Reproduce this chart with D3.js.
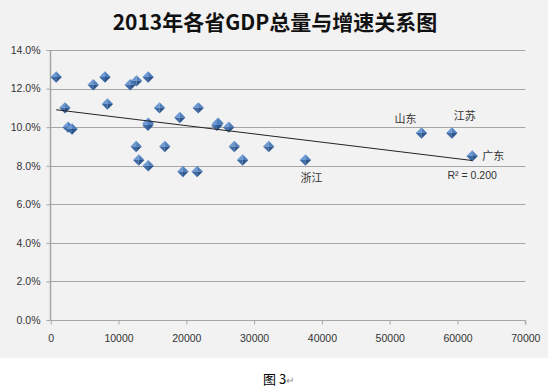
<!DOCTYPE html>
<html>
<head>
  <meta charset="utf-8">
  <title>2013年各省GDP总量与增速关系图</title>
  <script src="https://cdn.jsdelivr.net/npm/d3@7"></script>
  <style>
    body { margin: 0; background: #fff; }
    .chart text { font-family: "Liberation Sans", Arial, sans-serif; fill: #333; }
    .chart .cjk { font-family: "Noto Sans CJK SC", sans-serif; }
  </style>
</head>
<body>
  <svg class="chart"></svg>
<script>
  // 1. Data: province, GDP (亿元), growth rate
  var provinces = ["西藏","青海","宁夏","海南","甘肃","贵州","新疆","云南","重庆","天津",
                   "广西","江西","黑龙江","山西","吉林","陕西","内蒙古","安徽","北京","福建",
                   "上海","湖北","湖南","四川","辽宁","河北","河南","浙江","山东","江苏","广东"];
  var gdp = [807, 2101, 2565, 3146, 6268, 8007, 8360, 11721, 12657, 14370,
             14378, 14339, 14383, 12602, 12981, 16045, 16832, 19039, 19501, 21760,
             21602, 24668, 24502, 26261, 27078, 28301, 32156, 37568, 54684, 59162, 62164];
  var growth = [0.126, 0.110, 0.100, 0.099, 0.122, 0.126, 0.112, 0.122, 0.124, 0.126,
                0.102, 0.101, 0.080, 0.090, 0.083, 0.110, 0.090, 0.105, 0.077, 0.110,
                0.077, 0.102, 0.101, 0.100, 0.090, 0.083, 0.090, 0.083, 0.097, 0.097, 0.085];
  var xTicks = [0, 10000, 20000, 30000, 40000, 50000, 60000, 70000];
  var yTicks = [0, 0.02, 0.04, 0.06, 0.08, 0.10, 0.12, 0.14];
  var labelled = ["浙江", "山东", "江苏", "广东"];
  var trendLabel = "R² = 0.200";

  // 2. Sizes
  var W = 548, H = 390;
  var svg = d3.select(".chart").attr("width", W).attr("height", H);

  svg.append("rect").attr("width", W).attr("height", 358).attr("fill", "#f2f2f2");

  // 3. Scales
  var x = d3.scaleLinear().domain([0, 70000]).range([50.7, 525.3]);
  var y = d3.scaleLinear().domain([0, 0.14]).range([320, 50]);

  // 4. Grid lines
  svg.append("g").selectAll("line")
    .data(yTicks.slice(1))
    .enter().append("line")
    .attr("x1", x(0)).attr("x2", x(70000))
    .attr("y1", function(d){ return Math.round(y(d)) + 0.5; })
    .attr("y2", function(d){ return Math.round(y(d)) + 0.5; })
    .attr("stroke", "#a6a6a6").attr("stroke-width", 1);

  // 5. Axes
  var xAxis = d3.axisBottom(x).tickValues(xTicks).tickSize(4).tickPadding(10)
    .tickFormat(d3.format("d"));
  var gx = svg.append("g").attr("transform", "translate(0," + 320.5 + ")").call(xAxis);
  gx.select(".domain").attr("stroke", "#a6a6a6").attr("d", "M" + x(0) + ",0H" + x(70000) + "V4");
  gx.selectAll(".tick line").attr("stroke", "#a6a6a6");
  gx.selectAll("text").attr("font-size", 10.5).attr("fill", "#2a2a2a")
    .style("font-family", "'Liberation Sans', Arial, sans-serif");

  var yAxis = d3.axisLeft(y).tickValues(yTicks).tickSize(4).tickPadding(6)
    .tickFormat(d3.format(".1%"));
  var gy = svg.append("g").attr("transform", "translate(" + 50.5 + ",0)").call(yAxis);
  gy.select(".domain").attr("stroke", "#a6a6a6").attr("stroke-width", 1.5)
    .attr("d", "M0," + y(0.14) + "V" + y(0));
  gy.selectAll(".tick line").attr("stroke", "#a6a6a6");
  gy.selectAll("text").attr("font-size", 10.5).attr("fill", "#2a2a2a")
    .style("font-family", "'Liberation Sans', Arial, sans-serif");

  // 6. Trend line (least squares)
  var mx = d3.mean(gdp), my = d3.mean(growth);
  var sxy = d3.sum(gdp, function(v, i){ return (v - mx) * (growth[i] - my); });
  var sxx = d3.sum(gdp, function(v){ return (v - mx) * (v - mx); });
  var slope = sxy / sxx, icpt = my - slope * mx;
  var ext = d3.extent(gdp);

  // 7. Markers
  var r = 5.7;
  var facets = [
    { d: "M0," + (-r) + "L" + (-r) + ",0L0,0Z", c: "#6e9ad4" },
    { d: "M0," + (-r) + "L" + r + ",0L0,0Z", c: "#4f7fbd" },
    { d: "M" + (-r) + ",0L0," + r + "L0,0Z", c: "#3d6aa4" },
    { d: "M" + r + ",0L0," + r + "L0,0Z", c: "#2c568c" }
  ];

  var pts = svg.append("g").selectAll("g")
    .data(gdp)
    .enter().append("g")
    .attr("transform", function(d, i){ return "translate(" + x(d) + "," + y(growth[i]) + ")"; });
  facets.forEach(function(f){
    pts.append("path").attr("d", f.d).attr("fill", f.c);
  });

  svg.append("line")
    .attr("x1", x(ext[0])).attr("y1", y(icpt + slope * ext[0]))
    .attr("x2", x(ext[1])).attr("y2", y(icpt + slope * ext[1]))
    .attr("stroke", "#222").attr("stroke-width", 1);

  // 8. Labels
  var offsets = { "浙江": [6, 22], "山东": [-16, -10], "江苏": [13, -13], "广东": [21, 4] };
  svg.append("g").selectAll("text")
    .data(labelled)
    .enter().append("text")
    .attr("class", "cjk")
    .attr("font-size", 11)
    .attr("text-anchor", "middle")
    .attr("x", function(p){ var i = provinces.indexOf(p); return x(gdp[i]) + offsets[p][0]; })
    .attr("y", function(p){ var i = provinces.indexOf(p); return y(growth[i]) + offsets[p][1]; })
    .text(function(p){ return p; });

  var last = gdp.indexOf(ext[1]);
  svg.append("text")
    .attr("font-size", 10.5).attr("text-anchor", "middle")
    .attr("x", x(gdp[last])).attr("y", y(growth[last]) + 23)
    .text(trendLabel);

  // 9. Title and caption
  svg.append("text").attr("class", "cjk")
    .attr("x", 275).attr("y", 30)
    .attr("text-anchor", "middle")
    .attr("font-size", 21).attr("font-weight", "bold")
    .style("fill", "#111")
    .text("2013年各省GDP总量与增速关系图");

  var cap = svg.append("text").attr("class", "cjk")
    .attr("x", 263).attr("y", 384).attr("font-size", 13);
  cap.append("tspan").style("fill", "#000").text("图 3");
  cap.append("tspan").style("fill", "#888").attr("font-size", 10).text("↵");
</script>
</body>
</html>
